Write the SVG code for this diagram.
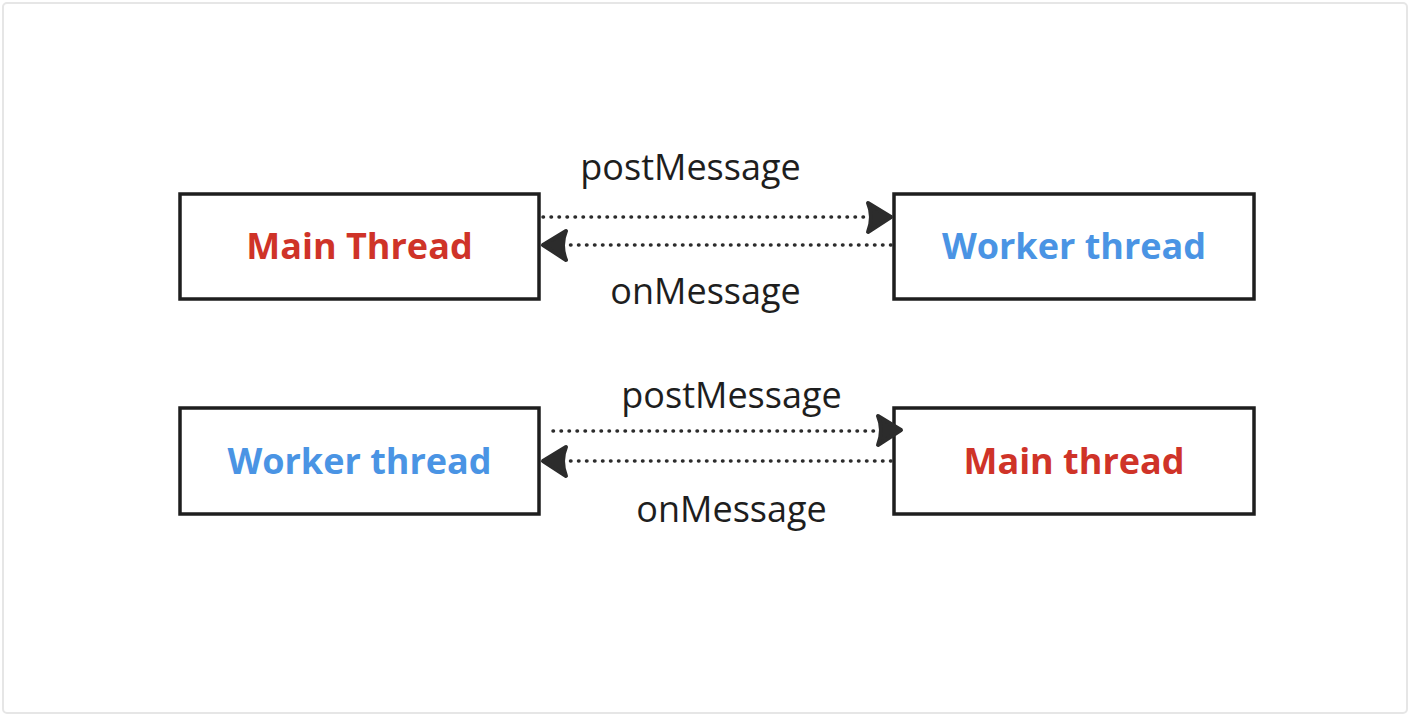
<svg xmlns="http://www.w3.org/2000/svg" width="1410" height="716" viewBox="0 0 1410 716">
<defs>
<style>
.frame{fill:#ffffff;stroke:#e6e6e6;stroke-width:2}
.box{fill:#ffffff;stroke:#1e1e1e;stroke-width:3.5}
.lbl{font-family:"Open Sans","Noto Sans",sans-serif;font-weight:700;font-size:36px;text-anchor:middle}
.red{fill:#cf3328}
.blue{fill:#4a94e4}
.msg{font-family:"Open Sans","Noto Sans",sans-serif;font-size:36px;fill:#1e1e1e;text-anchor:middle}
.dot{fill:none;stroke:#2c2c2c;stroke-width:3.5;stroke-linecap:round;stroke-dasharray:0.5 7.5}
.head{fill:#2c2c2c;stroke:#2c2c2c;stroke-width:4;stroke-linejoin:round}
</style>
</defs>
<rect class="frame" x="3" y="3" width="1404" height="710" rx="4"/>
<g id="main-thread-1">
<rect class="box" x="180" y="194" width="359" height="105"/>
<text class="lbl red" x="359.5" y="259">Main Thread</text>
</g>
<g id="worker-thread-1">
<rect class="box" x="894" y="194" width="360" height="105"/>
<text class="lbl blue" x="1074" y="259">Worker thread</text>
</g>
<g id="worker-thread-2">
<rect class="box" x="180" y="408" width="359" height="106"/>
<text class="lbl blue" x="359.5" y="474">Worker thread</text>
</g>
<g id="main-thread-2">
<rect class="box" x="894" y="408" width="360" height="106"/>
<text class="lbl red" x="1074" y="474">Main thread</text>
</g>
<g id="connectors">
<line class="dot" x1="543" y1="217" x2="866" y2="217"/>
<path class="head" d="M891,217 L868,203 Q874,217 868,232 Z"/>
<line class="dot" x1="891" y1="245" x2="568" y2="245"/>
<path class="head" d="M543,245 L566,231 Q560,245 566,260 Z"/>
<line class="dot" x1="553" y1="431" x2="876" y2="431"/>
<path class="head" d="M901,430 L878,416 Q884,430 878,445 Z"/>
<line class="dot" x1="891" y1="461" x2="568" y2="461"/>
<path class="head" d="M543,461 L566,447 Q560,461 566,476 Z"/>
<text class="msg" x="690.5" y="180">postMessage</text>
<text class="msg" x="705.5" y="304">onMessage</text>
<text class="msg" x="731.5" y="408">postMessage</text>
<text class="msg" x="731.5" y="522">onMessage</text>
</g>
</svg>
